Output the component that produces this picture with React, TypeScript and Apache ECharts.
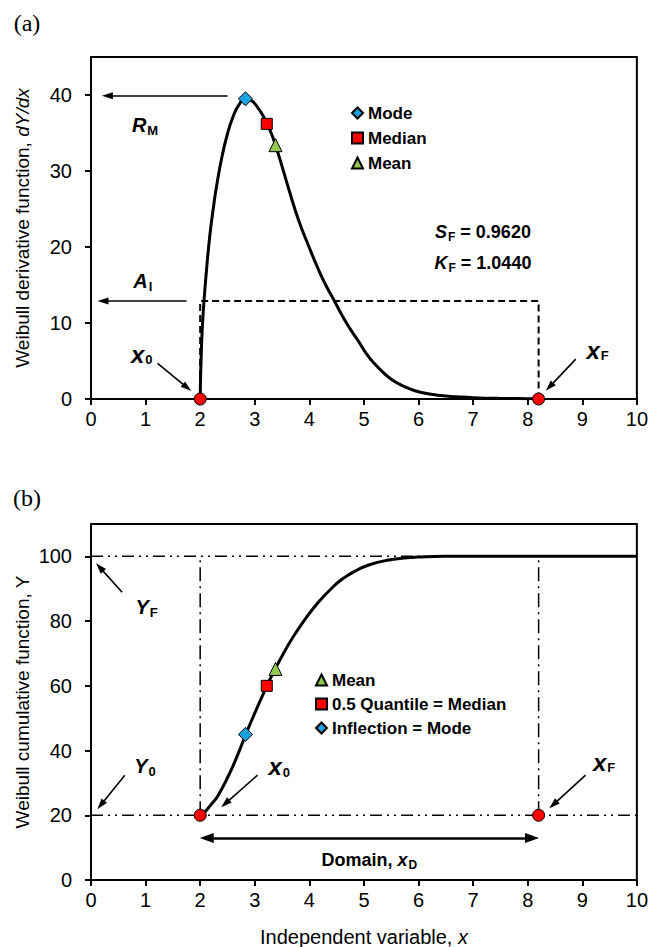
import React, { useEffect, useRef } from "react";
import * as echarts from "echarts";

// ---------- DATA ----------
// Panel (a): Weibull derivative function dY/dx
const derivX = [2.0, 2.02, 2.05, 2.1, 2.175, 2.25, 2.3, 2.4, 2.5, 2.6, 2.7, 2.83, 2.95, 3.05, 3.15, 3.22, 3.3, 3.38, 3.5, 3.64, 3.8, 4.0, 4.15, 4.3, 4.46, 4.6, 4.75, 4.9, 5.05, 5.2, 5.35, 5.5, 5.65, 5.8, 5.95, 6.2, 6.4, 6.7, 7.0, 7.5, 8.0, 8.2];
const derivY = [0, 6.0, 10.8, 15.6, 21.4, 25.6, 28.0, 31.9, 34.9, 37.1, 38.6, 39.5, 39.2, 38.4, 37.3, 36.2, 35.0, 33.4, 30.6, 27.2, 23.6, 19.9, 17.3, 15.0, 12.9, 11.0, 9.2, 7.6, 5.9, 4.6, 3.5, 2.6, 1.95, 1.45, 1.05, 0.65, 0.45, 0.3, 0.18, 0.08, 0.04, 0.03];

// Panel (b): Weibull cumulative function Y
const cumX = [2.0, 2.05, 2.1, 2.2, 2.3, 2.4, 2.5, 2.6, 2.7, 2.83, 2.95, 3.05, 3.15, 3.22, 3.38, 3.5, 3.64, 3.8, 3.94, 4.1, 4.25, 4.4, 4.55, 4.7, 4.9, 5.1, 5.4, 5.7, 6.0, 6.5, 7, 8, 9, 10];
const cumY = [20, 20.5, 21.3, 23.3, 25.4, 28.3, 31.6, 35.2, 39.2, 44.8, 49.6, 53.5, 57.3, 60.0, 65.4, 69.2, 73.4, 77.6, 81.0, 84.5, 87.4, 90.0, 92.3, 94.1, 96.0, 97.4, 98.7, 99.4, 99.8, 100, 100, 100, 100, 100];

// Key points
const x0 = 2.0;
const xF = 8.2;
const avgHeight = 12.9; // A_I
const peakRate = 39.9; // R_M arrow level
const modeA = [2.83, 39.5];
const medianA = [3.22, 36.2];
const meanA = [3.38, 33.4];
const Y0 = 20;
const YF = 100;
const modeB = [2.83, 45];
const medianB = [3.22, 60];
const meanB = [3.38, 65.2];

// Ticks
const xTicks = [0, 1, 2, 3, 4, 5, 6, 7, 8, 9, 10];
const yTicksA = [0, 10, 20, 30, 40];
const yTicksB = [0, 20, 40, 60, 80, 100];

// Texts
const legendA = ["Mode", "Median", "Mean"];
const legendB = ["Mean", "0.5 Quantile = Median", "Inflection = Mode"];
const sF = "0.9620";
const kF = "1.0440";

// ---------- ANNOTATION PLACEMENT (data units) ----------
const textsA = [
  { at: [0.99, 35.9], t: "{v|R}{s|M}" },
  { at: [0.95, 15.4], t: "{v|A}{s|I}" },
  { at: [0.93, 5.9], t: "{x|x}{s|0}" },
  { at: [9.28, 6.4], t: "{x|x}{s|F}" },
  { at: [7.18, 21.8], t: "{w|S}{t|F}{n| = " + sF + "}" },
  { at: [7.18, 17.7], t: "{w|K}{t|F}{n| = " + kF + "}" },
];
const arrowsA = [
  [[2.5, peakRate], [0.3, peakRate]],
  [[1.75, avgHeight], [0.22, avgHeight]],
  [[1.22, 4.7], [1.76, 1.5]],
  [[8.88, 5.25], [8.4, 1.6]],
];
const textsB = [
  { at: [1.02, 84.0], t: "{v|Y}{s|F}" },
  { at: [0.99, 34.8], t: "{v|Y}{s|0}" },
  { at: [3.45, 35.0], t: "{x|x}{s|0}" },
  { at: [9.4, 36.4], t: "{x|x}{s|F}" },
  { at: [5.1, 6.0], t: "{n|Domain, }{x2|x}{t|D}" },
];
const arrowsB = [
  [[0.57, 88.9], [0.16, 96.6]],
  [[0.62, 32.4], [0.18, 23.2]],
  [[3.05, 32.4], [2.46, 23.6]],
  [[9.06, 32.4], [8.47, 23.3]],
];
const domainArrow = [[2.12, 13.0], [8.08, 13.0]];

// ---------- STYLES ----------
const FONT = "'Liberation Sans', Arial, Helvetica, sans-serif";
const SERIF = "'Liberation Serif', 'Times New Roman', Times, serif";
const BLUE = "#1BA0E0";
const RED = "#FF0000";
const GREEN = "#92C850";

const base = { fontFamily: FONT, color: "#000", fontWeight: "bold", textBorderWidth: 0, textBorderColor: "transparent", textShadowBlur: 0, opacity: 1 };
const rich = {
  v: { ...base, fontSize: 20, fontStyle: "italic", lineHeight: 22, verticalAlign: "top" },
  x: { ...base, fontSize: 24, fontStyle: "italic", lineHeight: 24, verticalAlign: "top" },
  s: { ...base, fontSize: 13, lineHeight: 13, verticalAlign: "bottom", padding: [12, 0, 0, 1] },
  w: { ...base, fontSize: 18, fontStyle: "italic", lineHeight: 20, verticalAlign: "top" },
  t: { ...base, fontSize: 12, lineHeight: 12, verticalAlign: "bottom", padding: [11, 0, 0, 1] },
  n: { ...base, fontSize: 18, lineHeight: 20, verticalAlign: "top" },
  x2: { ...base, fontSize: 18, fontStyle: "italic", lineHeight: 20, verticalAlign: "top" },
};

function xAxisCfg(gridIndex: number) {
  return {
    gridIndex,
    type: "value",
    min: 0,
    max: 10,
    interval: 1,
    axisLine: { show: true, onZero: false, lineStyle: { color: "#000", width: 2 } },
    axisTick: { show: true, length: 6, customValues: xTicks, lineStyle: { color: "#000", width: 2 } },
    axisLabel: { color: "#000", fontSize: 20, fontFamily: FONT, margin: 10, customValues: xTicks },
    splitLine: { show: false },
  };
}

function yAxisCfg(gridIndex: number, max: number, interval: number, ticks: number[]) {
  return {
    gridIndex,
    type: "value",
    min: 0,
    max,
    interval,
    axisLine: { show: true, onZero: false, lineStyle: { color: "#000", width: 2 } },
    axisTick: { show: true, length: 6, customValues: ticks, lineStyle: { color: "#000", width: 2 } },
    axisLabel: { color: "#000", fontSize: 20, fontFamily: FONT, margin: 19, customValues: ticks },
    splitLine: { show: false },
  };
}

function marker(name: string, gi: number, pt: number[], symbol: string, size: number, color: string) {
  return {
    name,
    type: "scatter",
    xAxisIndex: gi,
    yAxisIndex: gi,
    data: [pt],
    symbol,
    symbolSize: size,
    itemStyle: { color, borderColor: "#000", borderWidth: 1, opacity: 1 },
    z: 6,
  };
}

function refLine(gi: number, a: number[], b: number[], dash: number[]) {
  return {
    type: "line",
    xAxisIndex: gi,
    yAxisIndex: gi,
    data: [a, b],
    symbol: "none",
    silent: true,
    lineStyle: { color: "#000", width: 1.5, type: dash },
    z: 2,
  };
}

function annotations(gi: number, texts: { at: number[]; t: string }[], arrows: number[][][], extra: any[] = []) {
  return {
    type: "scatter",
    xAxisIndex: gi,
    yAxisIndex: gi,
    silent: true,
    symbol: "circle",
    symbolSize: 1,
    itemStyle: { color: "rgba(0,0,0,0)", borderWidth: 0, opacity: 1 },
    data: texts.map((d) => ({ value: d.at, label: { show: true, formatter: d.t } })),
    label: { show: true, position: "inside", rich, color: "#000", opacity: 1, textBorderWidth: 0, textBorderColor: "transparent" },
    markLine: {
      silent: true,
      symbolSize: [7, 11],
      label: { show: false },
      lineStyle: { color: "#000", width: 1.6, type: "solid", opacity: 1 },
      data: [
        ...arrows.map((a) => [
          { coord: a[0], symbol: "none" },
          { coord: a[1], symbol: "triangle" },
        ]),
        ...extra,
      ],
    },
    z: 7,
  };
}

function buildOption() {
  const curveA = derivX.map((x, i) => [x, derivY[i]]);
  const curveB = cumX.map((x, i) => [x, cumY[i]]);
  const legendText = { fontSize: 17, fontWeight: "bold", fontFamily: FONT, color: "#000", lineHeight: 18 };
  const hDash = [12, 5, 2, 5, 2, 5];
  const vDash = [14, 5, 2, 5];
  return {
    animation: false,
    backgroundColor: "#fff",
    grid: [
      { left: 91, top: 57, width: 547, height: 342, show: true, borderColor: "#000", borderWidth: 2, backgroundColor: "transparent" },
      { left: 91, top: 524, width: 547, height: 356, show: true, borderColor: "#000", borderWidth: 2, backgroundColor: "transparent" },
    ],
    xAxis: [xAxisCfg(0), xAxisCfg(1)],
    yAxis: [yAxisCfg(0, 45, 10, yTicksA), yAxisCfg(1, 110, 20, yTicksB)],
    legend: [
      {
        data: legendA,
        orient: "vertical",
        left: 346,
        top: 99,
        itemWidth: 11,
        itemHeight: 11,
        itemGap: 7,
        selectedMode: false,
        textStyle: legendText,
      },
      {
        data: legendB,
        orient: "vertical",
        left: 310,
        top: 666,
        itemWidth: 11,
        itemHeight: 11,
        itemGap: 6,
        selectedMode: false,
        textStyle: legendText,
      },
    ],
    graphic: [
      { type: "text", x: 27, y: 23, style: { text: "(a)", font: "24px " + SERIF, fill: "#000", align: "center", verticalAlign: "middle", textAlign: "center", textVerticalAlign: "middle" } },
      { type: "text", x: 27, y: 498, style: { text: "(b)", font: "24px " + SERIF, fill: "#000", align: "center", verticalAlign: "middle", textAlign: "center", textVerticalAlign: "middle" } },
      {
        type: "text",
        x: 22,
        y: 228,
        rotation: Math.PI / 2,
        style: {
          text: "Weibull derivative function, {i|dY/dx}",
          fontSize: 19,
          fontFamily: FONT,
          fill: "#000",
          align: "center",
          verticalAlign: "middle",
          rich: { i: { fontSize: 19, fontFamily: FONT, fontStyle: "italic", fill: "#000" } },
        },
      },
      {
        type: "text",
        x: 22,
        y: 702,
        rotation: Math.PI / 2,
        style: {
          text: "Weibull cumulative function, Y",
          fontSize: 19,
          fontFamily: FONT,
          fill: "#000",
          align: "center",
          verticalAlign: "middle",
        },
      },
      {
        type: "text",
        x: 364,
        y: 937,
        style: {
          text: "Independent variable, {i|x}",
          fontSize: 20,
          fontFamily: FONT,
          fill: "#000",
          align: "center",
          verticalAlign: "middle",
          rich: { i: { fontSize: 20, fontFamily: FONT, fontStyle: "italic", fill: "#000" } },
        },
      },
    ],
    series: [
      // Panel (a)
      {
        type: "line",
        xAxisIndex: 0,
        yAxisIndex: 0,
        data: [[x0, 0], [x0, avgHeight], [xF, avgHeight], [xF, 0]],
        symbol: "none",
        silent: true,
        lineStyle: { color: "#000", width: 2, type: [7, 4] },
        z: 2,
      },
      {
        type: "line",
        xAxisIndex: 0,
        yAxisIndex: 0,
        data: curveA,
        symbol: "none",
        smooth: 0.5,
        silent: true,
        lineStyle: { color: "#000", width: 3 },
        z: 3,
      },
      marker("Mode", 0, modeA, "diamond", 14, BLUE),
      marker("Median", 0, medianA, "rect", 11, RED),
      marker("Mean", 0, meanA, "triangle", 13, GREEN),
      {
        type: "scatter",
        xAxisIndex: 0,
        yAxisIndex: 0,
        data: [[x0, 0], [xF, 0]],
        symbol: "circle",
        symbolSize: 12,
        itemStyle: { color: RED, borderColor: "#000", borderWidth: 1, opacity: 1 },
        z: 6,
      },
      annotations(0, textsA, arrowsA),

      // Panel (b)
      refLine(1, [0, YF], [10, YF], hDash),
      refLine(1, [0, Y0], [10, Y0], hDash),
      refLine(1, [x0, Y0], [x0, YF], vDash),
      refLine(1, [xF, Y0], [xF, YF], vDash),
      {
        type: "line",
        xAxisIndex: 1,
        yAxisIndex: 1,
        data: curveB,
        symbol: "none",
        smooth: 0.5,
        silent: true,
        lineStyle: { color: "#000", width: 3 },
        z: 3,
      },
      marker("Mean", 1, meanB, "triangle", 13, GREEN),
      marker("0.5 Quantile = Median", 1, medianB, "rect", 11, RED),
      marker("Inflection = Mode", 1, modeB, "diamond", 14, BLUE),
      {
        type: "scatter",
        xAxisIndex: 1,
        yAxisIndex: 1,
        data: [[x0, Y0], [xF, Y0]],
        symbol: "circle",
        symbolSize: 12,
        itemStyle: { color: RED, borderColor: "#000", borderWidth: 1, opacity: 1 },
        z: 6,
      },
      annotations(1, textsB, arrowsB, [
        [
          { coord: domainArrow[0], symbol: "triangle", symbolSize: [10, 14], lineStyle: { width: 2.6 } },
          { coord: domainArrow[1], symbol: "triangle", symbolSize: [10, 14], lineStyle: { width: 2.6 } },
        ],
      ]),
    ],
  };
}

export default function App() {
  const ref = useRef<HTMLDivElement>(null);
  useEffect(() => {
    if (!ref.current) return;
    const chart = echarts.init(ref.current, null, { renderer: "svg" });
    chart.setOption(buildOption() as any);
    return () => chart.dispose();
  }, []);
  return (
    <div
      ref={ref}
      style={{ position: "fixed", left: 0, top: 0, width: 651, height: 947, background: "#fff" }}
    />
  );
}
